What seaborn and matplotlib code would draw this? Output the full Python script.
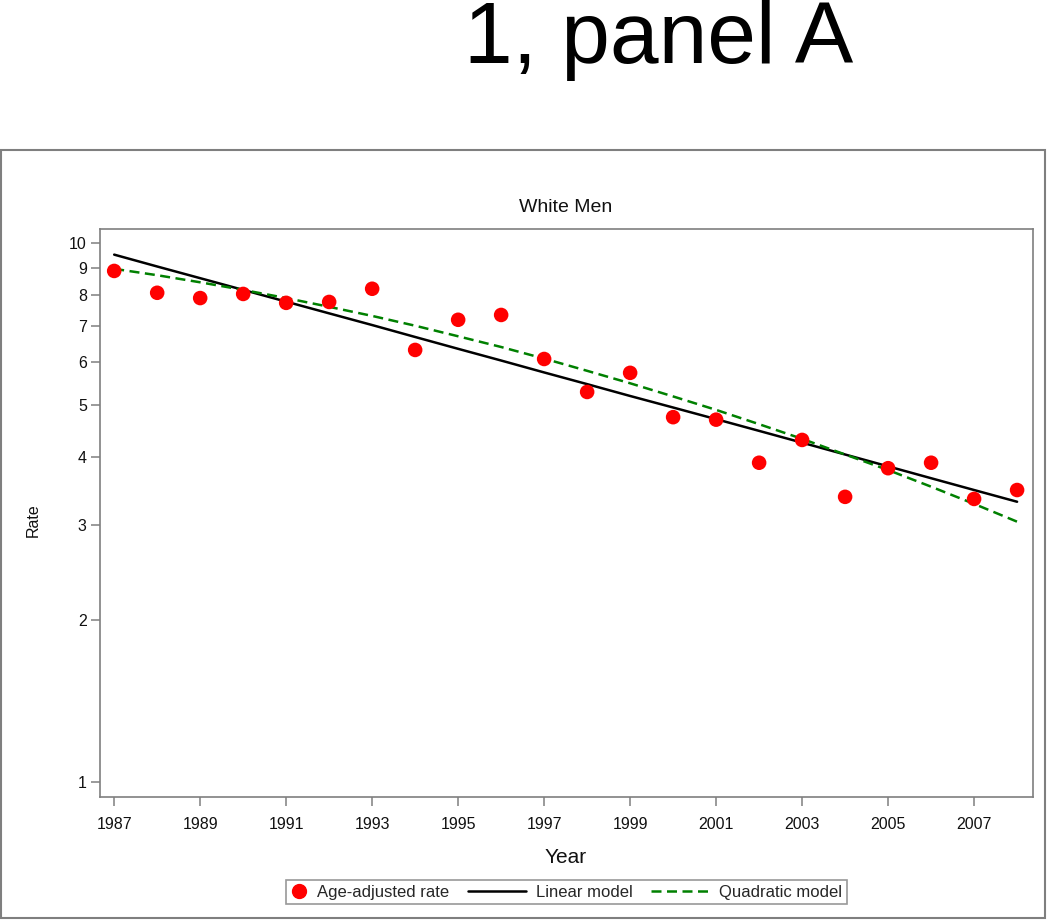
import matplotlib
matplotlib.use("Agg")
import matplotlib.pyplot as plt
import seaborn as sns
import pandas as pd
from matplotlib.patches import Rectangle
from matplotlib.lines import Line2D

years = list(range(1987, 2009))
rate = [8.87, 8.08, 7.90, 8.04, 7.74, 7.77, 8.22, 6.33, 7.20, 7.35, 6.09,
        5.29, 5.74, 4.75, 4.70, 3.91, 4.31, 3.38, 3.82, 3.91, 3.35, 3.48]
linear = [9.51, 9.04, 8.60, 8.18, 7.78, 7.40, 7.04, 6.69, 6.36, 6.05, 5.75,
          5.47, 5.20, 4.95, 4.71, 4.48, 4.26, 4.05, 3.85, 3.66, 3.48, 3.31]
quadratic = [8.95, 8.71, 8.45, 8.18, 7.90, 7.61, 7.32, 7.02, 6.71, 6.41, 6.10,
             5.79, 5.49, 5.19, 4.90, 4.61, 4.33, 4.05, 3.79, 3.53, 3.28, 3.04]
xticks = [1987, 1989, 1991, 1993, 1995, 1997, 1999, 2001, 2003, 2005, 2007]
yticks = [1, 2, 3, 4, 5, 6, 7, 8, 9, 10]

df = pd.DataFrame({"Year": years, "Rate": rate, "Linear": linear, "Quadratic": quadratic})

sns.set_theme(style="white")
plt.rcParams['font.family'] = ['Liberation Sans', 'DejaVu Sans']

fig = plt.figure(figsize=(10.5, 9.21), dpi=100)
ax = fig.add_axes([100/1050, 124/921, 933/1050, 568/921])

gray = "#7f7f7f"
green = "#008000"
DASH = (4, 2.2)

sns.lineplot(data=df, x="Year", y="Linear", ax=ax, color="black", lw=1.8, zorder=3)
sns.lineplot(data=df, x="Year", y="Quadratic", ax=ax, color=green, lw=1.8,
             zorder=3, dashes=False)
ax.lines[-1].set_dashes(DASH)
sns.scatterplot(data=df, x="Year", y="Rate", ax=ax, color="#ff0000", s=110,
                edgecolor="none", zorder=4)

ax.set_yscale("log")
ax.set_ylim(0.938, 10.61)
ax.set_xlim(1986.67, 2008.37)
ax.set_yticks(yticks)
ax.set_yticklabels([str(v) for v in yticks])
ax.yaxis.set_minor_locator(matplotlib.ticker.NullLocator())
ax.set_xticks(xticks)
ax.set_xticklabels([str(v) for v in xticks])

for sp in ax.spines.values():
    sp.set_color(gray)
    sp.set_linewidth(1.2)
ax.tick_params(axis="both", which="major", direction="out", length=6.5, width=1.1,
               color=gray, labelsize=11.5, labelcolor="#111111")
ax.tick_params(axis="y", left=True, pad=3)
ax.tick_params(axis="x", bottom=True, pad=8)

ax.set_xlabel("")
ax.set_ylabel("")
fig.text(566/1050, 1 - 857/921, "Year", ha="center", va="center", fontsize=15, color="#111111")
fig.text(33/1050, 1 - 520/921, "Rate", ha="center", va="center", fontsize=11.5,
         rotation=90, color="#111111")
fig.text(566/1050, 1 - 208/921, "White Men", ha="center", va="center", fontsize=14, color="#111111")
fig.text(464/1050, 1 - 63/921, "1, panel A", ha="left", va="baseline", fontsize=63, color="black")

fig.patches.append(Rectangle((1/1050, 3/921), 1044/1050, 768/921, transform=fig.transFigure,
                             fill=False, edgecolor=gray, lw=1.5))


class LongLineHandler:
    """Legend handler drawing a line that extends left of the handle box."""
    def __init__(self, extra):
        self.extra = extra

    def legend_artist(self, legend, orig_handle, fontsize, handlebox):
        x0, y0 = -handlebox.xdescent, -handlebox.ydescent
        w, h = handlebox.width, handlebox.height
        ext = self.extra * fontsize
        ln = Line2D([x0 - ext, x0 + w], [y0 + h / 2, y0 + h / 2],
                    color=orig_handle.get_color(), lw=orig_handle.get_linewidth(),
                    linestyle=orig_handle.get_linestyle())
        if orig_handle.get_linestyle() not in ("-", "solid"):
            ln.set_dashes(DASH)
        handlebox.add_artist(ln)
        return ln


h_pt = Line2D([], [], marker="o", color="#ff0000", linestyle="none", markersize=10)
h_lin = Line2D([], [], color="black", lw=1.8)
h_quad = Line2D([], [], color=green, lw=1.8, linestyle="--")
labels = ["Age-adjusted rate", "Linear model", "Quadratic model"]
leg = fig.legend([h_pt, h_lin, h_quad], labels, loc="center",
                 bbox_to_anchor=(566.5/1050, 1 - 892/921),
                 ncol=3, fontsize=12, frameon=True, fancybox=False, handlelength=1.0,
                 columnspacing=3.6, handletextpad=0.6, borderpad=0.25, borderaxespad=0,
                 handler_map={h_lin: LongLineHandler(2.5), h_quad: LongLineHandler(2.5)})
leg.get_frame().set_edgecolor(gray)
leg.get_frame().set_linewidth(1.2)
leg.get_frame().set_boxstyle("square", pad=0)

fig.savefig("out.png", dpi=100)
